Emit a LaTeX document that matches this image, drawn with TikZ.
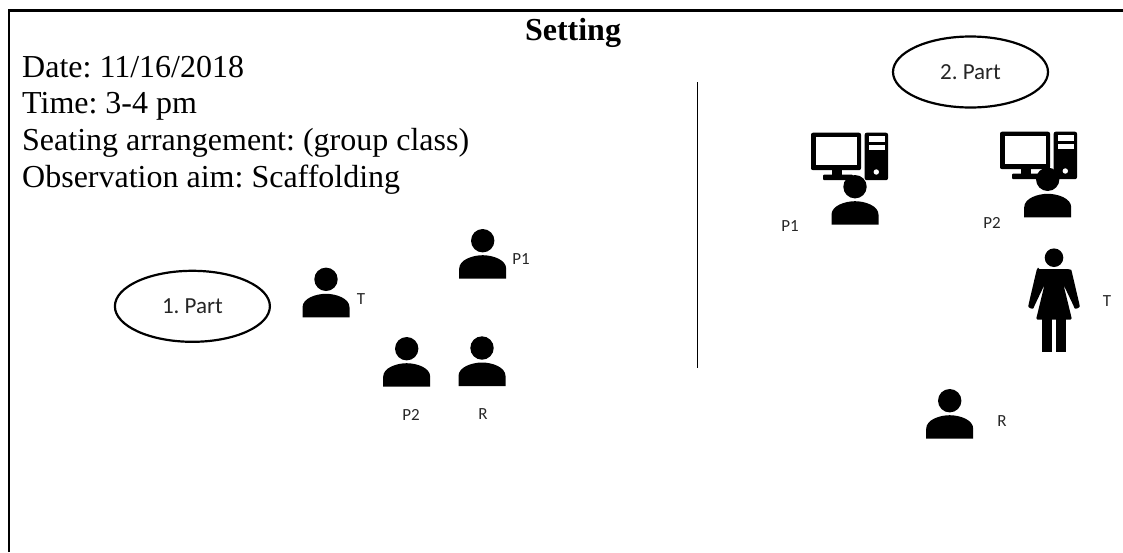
\documentclass[tikz,border=0pt]{standalone}
\usepackage{fontspec}
\setmainfont{Liberation Serif}
\newfontfamily\labelfont{Carlito}
\usetikzlibrary{shapes.geometric}
\frenchspacing
\tikzset{
  x=1pt,y=-1pt,
  frameline/.style={line width=2.4pt,black},
  heading/.style={font=\fontsize{32}{37}\selectfont\bfseries,inner sep=0pt,anchor=base},
  infotext/.style={font=\fontsize{32}{37}\selectfont,inner sep=0pt,anchor=base west},
  smalllabel/.style={font=\labelfont\fontsize{17}{20}\selectfont,inner sep=0pt,text=black!85},
  partlabel/.style={font=\labelfont\fontsize{23}{26}\selectfont,inner sep=0pt,text=black!85},
  partellipse/.style={ellipse,draw,line width=2.2pt,fill=white,minimum width=155pt,minimum height=71pt,inner sep=0pt},
  person/.pic={
    \fill[black] (0,0) circle[radius=11.7];
    \fill[black] (-23.5,38) -- (-23.5,28) .. controls (-23.5,19) and (-10,14.5) .. (0,14.5)
      .. controls (10,14.5) and (23.5,19) .. (23.5,28) -- (23.5,38) -- cycle;
  },
  computer/.pic={
    \fill[black,rounded corners=2pt] (0,0) rectangle (50,37.5);
    \fill[white] (4.7,4.6) rectangle (45.7,32);
    \fill[black] (20.5,37) rectangle (30.5,43);
    \fill[black,rounded corners=1pt] (12,42) rectangle (42,47.5);
    \fill[black,rounded corners=2pt] (53.7,0) rectangle (77,47.5);
    \fill[white] (58,3.5) rectangle (74,9);
    \fill[white] (58,12.5) rectangle (74,17.5);
    \fill[white] (65.3,39.3) circle[radius=2.7];
  },
  woman/.pic={
    \fill[black] (0,0) circle[radius=9.3];
    \fill[black,rounded corners=1.5pt] (-16,11.5) -- (16,11.5) .. controls (17,12) and (17.5,13) .. (18,15)
      -- (25.5,47) .. controls (26,50) and (21,52) .. (20,49)
      -- (9.5,27) -- (18,62) -- (-18,62) -- (-9.5,27)
      -- (-20,49) .. controls (-21,52) and (-26,50) .. (-25.5,47)
      -- (-18,15) .. controls (-17.5,13) and (-17,12) .. (-16,11.5) -- cycle;
    \fill[black] (-11.7,60) rectangle (-2.3,94.7);
    \fill[black] (2.3,60) rectangle (11.7,94.7);
  },
}
\begin{document}
\begin{tikzpicture}
\useasboundingbox (0,0) rectangle (1123,552);
\draw[frameline] (9,552) -- (9,10.3) -- (1123,10.3);
\coordinate (dividertop) at (697.5,82);
\coordinate (dividerbottom) at (697.5,368);
\draw[line width=1pt] (dividertop) -- (dividerbottom);
\node[heading] (title) at (573,40) {Setting};
\node[infotext] (date) at (22,77) {Date: 11/16/2018};
\node[infotext] (time) at (22,113.7) {Time: 3-4 pm};
\node[infotext] (seat) at (22,150.5) {Seating arrangement: (group class)};
\node[infotext] (aim) at (22,187) {Observation aim: Scaffolding};
\node[partellipse] (partone) at (192.4,306.3) {};
\node[partlabel] at (partone.center) {1. Part};
\node[partellipse] (parttwo) at (970.5,72) {};
\node[partlabel] at (parttwo.center) {2. Part};
\pic at (326,279.3) {person};
\pic at (482.7,240.7) {person};
\pic at (406.7,348.7) {person};
\pic at (482,348) {person};
\pic at (811,132.7) {computer};
\pic at (1000,131.7) {computer};
\pic at (855,186.7) {person};
\pic at (1047.7,179.3) {person};
\pic at (949.7,400.7) {person};
\pic at (1054,257.7) {woman};
\node[smalllabel] (tleft) at (361,298.7) {T};
\node[smalllabel] (ponelabel) at (521,259) {P1};
\node[smalllabel] (ptwolabel) at (411,415) {P2};
\node[smalllabel] (rleft) at (483,414) {R};
\node[smalllabel] (ponert) at (790,226) {P1};
\node[smalllabel] (ptwort) at (992,223.3) {P2};
\node[smalllabel] (tright) at (1107,301) {T};
\node[smalllabel] (rright) at (1002,420.7) {R};
\end{tikzpicture}
\end{document}
